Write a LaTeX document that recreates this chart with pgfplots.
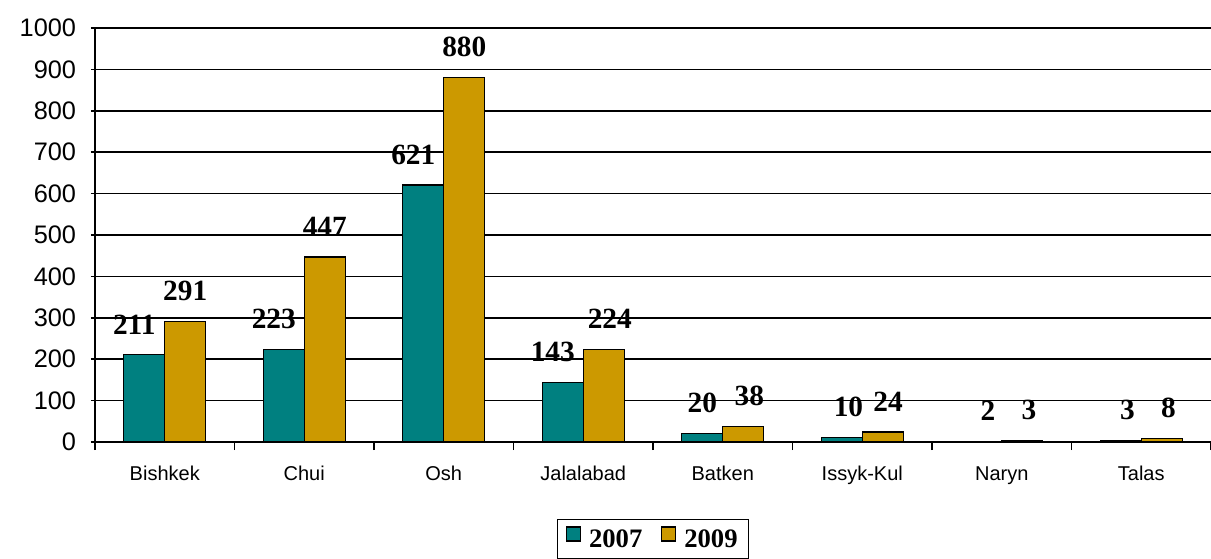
\documentclass[border=0pt]{standalone}
\usepackage{fontspec}
\setmainfont{Liberation Serif}
\newfontfamily\arial{Liberation Sans}
\usepackage{pgfplots}
\usepackage{pgfplotstable}
\pgfplotsset{compat=1.18}
\definecolor{teal07}{RGB}{0,128,128}
\definecolor{gold09}{RGB}{204,153,0}
\pgfplotstableread{
x y07 y09 d07 d09
0 211 291 -7.5 0
1 223 447 -7.5 0
2 621 880 -7.5 0
3 143 224 -7.5 4.5
4 20 38 0 4.5
5 10 24 5 4
6 2 3 5 5
7 3 8 5 5
}\data
\begin{document}
\begin{tikzpicture}
\begin{axis}[name=ax, scale only axis, width=837pt, height=310.5pt,
  xmin=-0.5, xmax=7.5, ymin=0, ymax=1000,
  ytick={0,100,...,1000},
  yticklabel style={/pgf/number format/1000 sep={}},
  xtick={0,...,7},
  xticklabels={Bishkek,Chui,Osh,Jalalabad,Batken,Issyk-Kul,Naryn,Talas},
  minor xtick={-0.5,0.5,...,7.5},
  major x tick style={draw=none},
  tick align=outside, major tick length=6pt, minor tick length=6pt,
  tick style={black, line width=1.1pt},
  axis lines=left, axis line style={-, line width=1.3pt},
  ymajorgrids, major grid style={black, line width=1.1pt},
  /pgf/number format/assume math mode=true,
  yticklabel style={font=\arial\fontsize{19}{19}\selectfont, inner sep=0pt, xshift=-11pt},
  xticklabel style={font=\arial\fontsize{15}{15}\selectfont, inner sep=0pt, yshift=-12pt},
  ybar=0pt, bar width=30.75pt, clip=false,
  nodes near coords,
  every node near coord/.append style={font=\bfseries\fontsize{22}{22}\selectfont, inner sep=0pt, anchor=south, yshift=15pt},
  legend style={at={(0.5,-0.186)}, anchor=north, legend columns=2, draw=black, line width=1pt,
    font=\bfseries\fontsize{20}{20}\selectfont, inner xsep=6pt, inner ysep=5pt,
    /tikz/every even column/.append style={column sep=12pt}},
  legend image code/.code={\draw[#1, draw=black, line width=0.9pt] (0pt,-1pt) rectangle (10.5pt,9.5pt);
    \path[draw=none, fill=none] (0pt,0pt) -- (15pt,0pt);},
]
\addplot[fill=teal07, draw=black, line width=0.9pt,
  visualization depends on={\thisrow{d07}\as\dx},
  every node near coord/.append style={xshift=\dx}] table[x=x,y=y07]{\data};
\addplot[fill=gold09, draw=black, line width=0.9pt,
  visualization depends on={\thisrow{d09}\as\dx},
  every node near coord/.append style={xshift=\dx}] table[x=x,y=y09]{\data};
\legend{2007,2009}
\end{axis}
\pgfresetboundingbox
\path[use as bounding box] ([xshift=-71.25pt,yshift=-87pt]ax.south west) rectangle ([yshift=21pt]ax.north east);
\end{tikzpicture}
\end{document}
